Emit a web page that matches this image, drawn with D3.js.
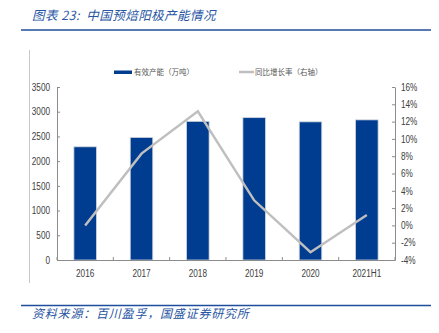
<!DOCTYPE html>
<html><head><meta charset="utf-8">
<script src="https://cdn.jsdelivr.net/npm/d3@7"></script>
<style>
html,body{margin:0;padding:0;background:#fff;}
svg{display:block;}
.num{font-family:"Liberation Sans Narrow","Arial Narrow","Liberation Sans",Arial,sans-serif;fill:#404040;}
.cjk{font-family:"Noto Sans CJK SC",sans-serif;}
</style></head>
<body>
<svg id="c" width="439" height="333"></svg>
<script>
const categories = ["2016","2017","2018","2019","2020","2021H1"];
const capacity = [2290, 2480, 2805, 2880, 2795, 2835];
const growth = [0.0, 8.3, 13.2, 2.9, -3.1, 1.2];
const leftTicks = [0,500,1000,1500,2000,2500,3000,3500];
const rightTicks = [-4,-2,0,2,4,6,8,10,12,14,16];
const titleText = "图表 23:  中国预焙阳极产能情况";
const sourceText = "资料来源：百川盈孚，国盛证券研究所";
const legendLabels = ["有效产能（万吨）","同比增长率（右轴）"];

const svg = d3.select("#c");
const blue = "#003d91", gray = "#bfbfbf", axisCol = "#8c8c8c", headBlue = "#2855a3";

// header
svg.append("text").attr("class","cjk").attr("x",32).attr("y",20)
  .attr("font-size",12.5).attr("font-style","italic").attr("fill",headBlue)
  .style("white-space","pre").style("letter-spacing","0.45px").text(titleText);
svg.append("line").attr("x1",21).attr("x2",431).attr("y1",30).attr("y2",30)
  .attr("stroke","#1f4e9c").attr("stroke-width",1.6);
// left border line
svg.append("line").attr("x1",29.5).attr("x2",29.5).attr("y1",50).attr("y2",283)
  .attr("stroke","#c8c8c8").attr("stroke-width",1);
// footer
svg.append("line").attr("x1",21).attr("x2",431).attr("y1",305.5).attr("y2",305.5)
  .attr("stroke","#1f4e9c").attr("stroke-width",1.6);
svg.append("text").attr("class","cjk").attr("x",32).attr("y",318)
  .attr("font-size",12).attr("font-style","italic").attr("fill",headBlue)
  .style("letter-spacing","0.8px").text(sourceText);

const L = 57, R = 395, T = 87, B = 260;
const x = d3.scaleBand().domain(categories).range([L,R]).paddingInner(0.6).paddingOuter(0.3);
const yL = d3.scaleLinear().domain([0,3500]).range([B,T]);
const yR = d3.scaleLinear().domain([-4,16]).range([B,T]);

// bars
svg.append("g").selectAll("rect").data(categories).join("rect")
  .attr("x",d=>x(d)).attr("width",x.bandwidth())
  .attr("y",(d,i)=>yL(capacity[i])).attr("height",(d,i)=>B-yL(capacity[i]))
  .attr("fill",blue).attr("stroke","#d0d4dc").attr("stroke-width",0.8);

// axes
const gl = svg.append("g").attr("transform",`translate(${L},0)`)
  .call(d3.axisLeft(yL).tickValues(leftTicks).tickFormat(d3.format("d")).tickSizeInner(-3).tickSizeOuter(0).tickPadding(7));
const gr = svg.append("g").attr("transform",`translate(${R},0)`)
  .call(d3.axisRight(yR).tickValues(rightTicks).tickSizeInner(-3).tickSizeOuter(0).tickPadding(6).tickFormat(d=>d+"%"));
const gb = svg.append("g").attr("transform",`translate(0,${B})`)
  .call(d3.axisBottom(x).tickSize(0).tickPadding(10));
[gl,gr,gb].forEach(g=>{
  g.select(".domain").attr("stroke",axisCol);
  g.selectAll(".tick line").attr("stroke",axisCol);
  g.selectAll("text").attr("class","num").attr("font-size",10).attr("fill","#404040")
    .each(function(){
      const w = this.getComputedTextLength();
      if (w > 0) d3.select(this).attr("textLength", (w*0.82).toFixed(2)).attr("lengthAdjust","spacingAndGlyphs");
    });
});
// category boundary ticks
const step = x.step();
const bounds = d3.range(categories.length+1).map(i=>L + i*step);
svg.append("g").selectAll("line").data(bounds).join("line")
  .attr("x1",d=>d).attr("x2",d=>d).attr("y1",B).attr("y2",B-3)
  .attr("stroke",axisCol);

// line
const line = d3.line().x((d,i)=>x(categories[i])+x.bandwidth()/2).y(d=>yR(d));
svg.append("path").datum(growth).attr("d",line).attr("fill","none")
  .attr("stroke",gray).attr("stroke-width",2.5);

// legend
svg.append("rect").attr("x",114).attr("y",70.5).attr("width",18).attr("height",3.5).attr("fill",blue);
svg.append("text").attr("class","cjk").attr("x",134).attr("y",75).attr("font-size",7.5).attr("fill","#595959").text(legendLabels[0]);
svg.append("line").attr("x1",239).attr("x2",254).attr("y1",72).attr("y2",72).attr("stroke",gray).attr("stroke-width",2.5);
svg.append("text").attr("class","cjk").attr("x",255).attr("y",75).attr("font-size",7.5).attr("fill","#595959").text(legendLabels[1]);
</script>
</body></html>
